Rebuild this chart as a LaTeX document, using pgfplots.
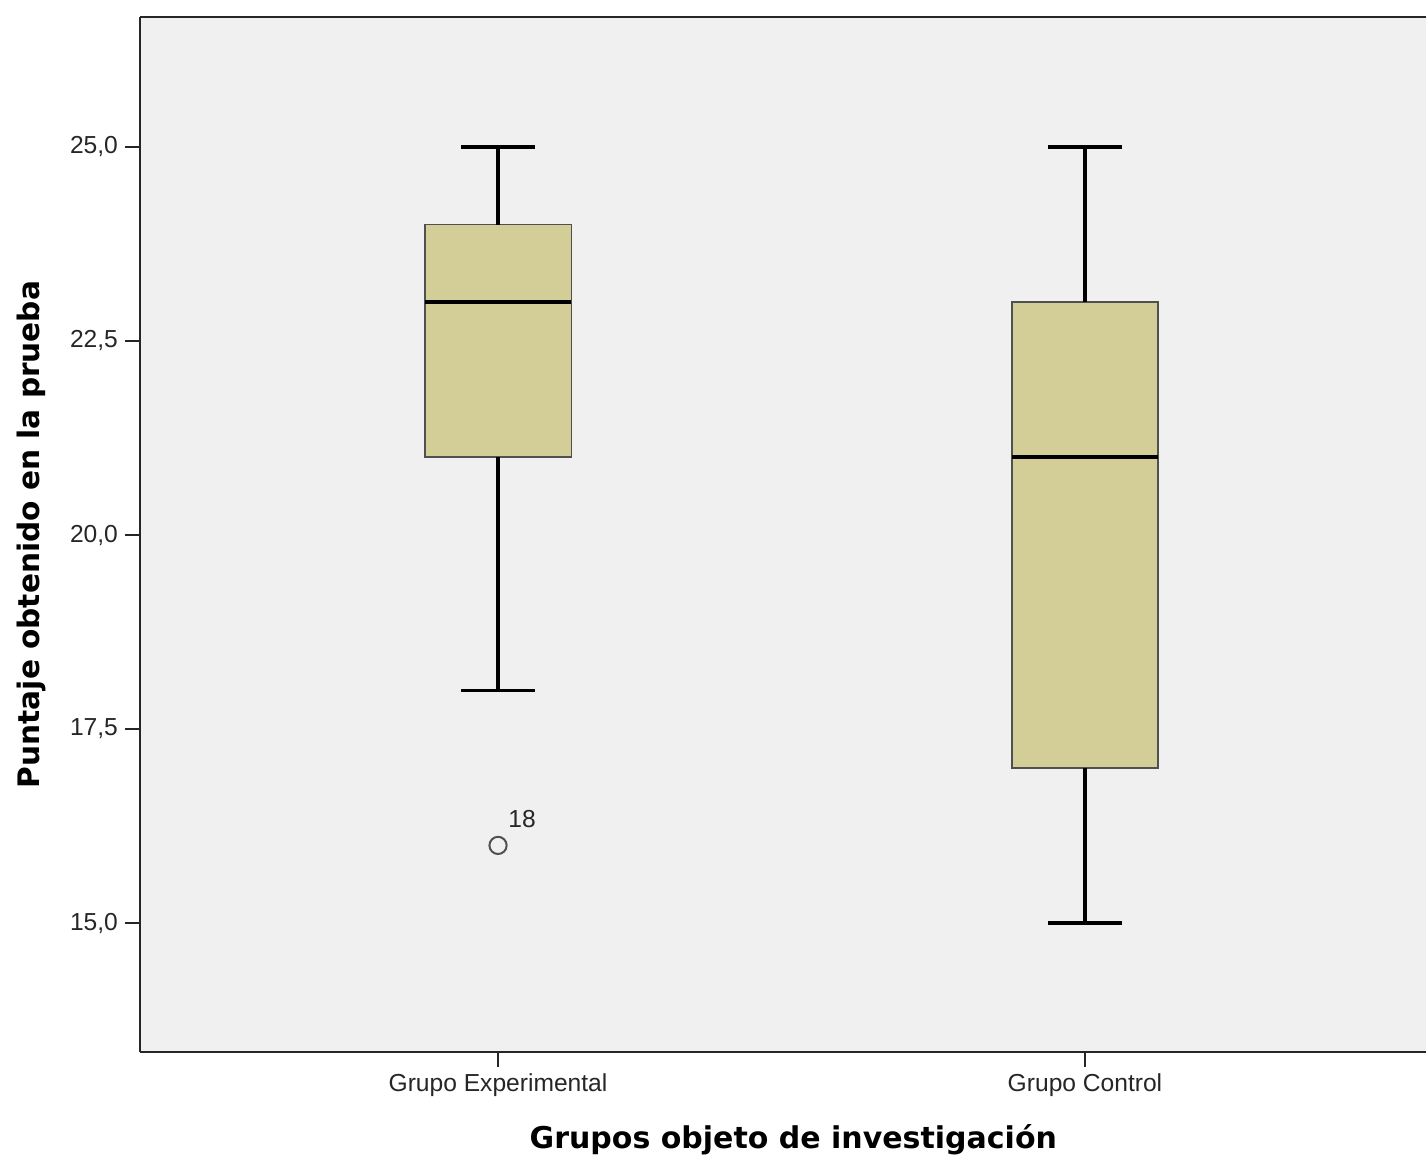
\documentclass[border=0pt]{standalone}
\usepackage{fontspec}
\setmainfont{Liberation Sans}
\newfontfamily\labfont{DejaVu Sans}
\usepackage{pgfplots}
\pgfplotsset{compat=1.18}
\definecolor{boxfill}{RGB}{211,206,151}
\definecolor{bg}{RGB}{240,240,240}
\definecolor{edge}{RGB}{80,80,80}
\begin{document}
\begin{tikzpicture}
\begin{axis}[
  scale only axis, width=643pt, height=517.5pt,
  xmin=0.39, xmax=2.581, ymin=13.338, ymax=26.675,
  axis x line*=bottom, axis y line*=left,
  axis line style={-, line width=1pt, black!85},
  axis background/.style={fill=bg},
  xtick={1,2}, xticklabels={Grupo Experimental, Grupo Control},
  ytick={15,17.5,20,22.5,25},
  tick align=outside, major tick length=7.5pt,
  tick style={line width=1.1pt, black!85},
  /pgf/number format/fixed, /pgf/number format/fixed zerofill,
  /pgf/number format/precision=1, /pgf/number format/use comma,
  /pgf/number format/assume math mode=true,
  ticklabel style={font=\fontsize{12.3}{14}\selectfont, text=black!85},
  xlabel={Grupos objeto de investigación},
  ylabel={Puntaje obtenido en la prueba},
  every axis x label/.style={at={(axis description cs:0.508,-0.085)}, anchor=center, font=\labfont\bfseries\fontsize{15}{17}\selectfont},
  every axis y label/.style={at={(axis description cs:-0.0848,0.5)}, anchor=center, rotate=90, font=\labfont\bfseries\fontsize{14.8}{17}\selectfont},
  clip=false,
  whisk/.style={draw=black, line width=1.6pt, mark=none},
  med/.style={draw=black, line width=2pt, mark=none},
  bx/.style={draw=edge, fill=boxfill, line width=0.9pt, mark=none},
]
% Grupo Experimental: whiskers 18-25, box 21-24, median 23
\addplot[bx] coordinates {(0.875,21) (1.125,21) (1.125,24) (0.875,24)} -- cycle;
\addplot[whisk] coordinates {(1,21) (1,18)};
\addplot[whisk] coordinates {(0.9375,18) (1.0625,18)};
\addplot[whisk] coordinates {(1,24) (1,25)};
\addplot[whisk] coordinates {(0.9375,25) (1.0625,25)};
\addplot[med] coordinates {(0.875,23) (1.125,23)};
% Grupo Control: whiskers 15-25, box 17-23, median 21
\addplot[bx] coordinates {(1.875,17) (2.125,17) (2.125,23) (1.875,23)} -- cycle;
\addplot[whisk] coordinates {(2,17) (2,15)};
\addplot[whisk] coordinates {(1.9375,15) (2.0625,15)};
\addplot[whisk] coordinates {(2,23) (2,25)};
\addplot[whisk] coordinates {(1.9375,25) (2.0625,25)};
\addplot[med] coordinates {(1.875,21) (2.125,21)};
% outlier
\addplot[only marks, mark=o, mark size=4.3pt, mark options={draw=edge, line width=1pt},
  nodes near coords={18},
  every node near coord/.style={font=\fontsize{12.3}{14}\selectfont, black!85, anchor=center, xshift=12pt, yshift=13pt}]
  coordinates {(1,16)};
\draw[line width=1pt, black!85] (rel axis cs:0,1) -- (rel axis cs:1,1);
\coordinate (sw) at (rel axis cs:0,0);
\coordinate (ne) at (rel axis cs:1,1);
\end{axis}
\pgfresetboundingbox
\path[use as bounding box] ([xshift=-70pt,yshift=-53.5pt]sw) rectangle ([yshift=8.5pt]ne);
\end{tikzpicture}
\end{document}
